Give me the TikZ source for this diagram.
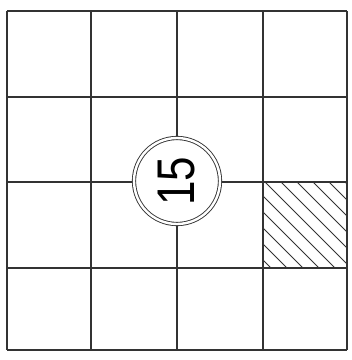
\documentclass[tikz,border=0pt]{standalone}
\usepackage{fontspec}
\setmainfont{Liberation Sans}
\begin{document}
\begin{tikzpicture}[x=1pt,y=-1pt,
  gridline/.style={draw=black!80,line width=1.1pt},
  hatchline/.style={draw=black!80,line width=1pt},
  numcircle/.style={circle,draw=black!80,double=white,double distance=2.4pt,line width=0.9pt,fill=white,minimum size=86pt,inner sep=0pt,font=\fontsize{53}{55}\selectfont}]
\useasboundingbox (0,0) rectangle (352,360);
% hatched cell
\begin{scope}
\clip (263,182) rectangle (347,268);
\foreach \k in {-96,-80,...,96}{
  \draw[hatchline] (263+\k,180) -- (263+\k+92,272);
}
\end{scope}
% grid
\foreach \x in {7,91,177,263,347}{
  \draw[gridline] (\x,11) -- (\x,350);
}
\foreach \y in {11,97,182,268,350}{
  \draw[gridline] (7,\y) -- (347,\y);
}
\node[numcircle] (c) at (177,181) {\rotatebox{90}{\scalebox{0.83}[1]{15}}};
\end{tikzpicture}
\end{document}
